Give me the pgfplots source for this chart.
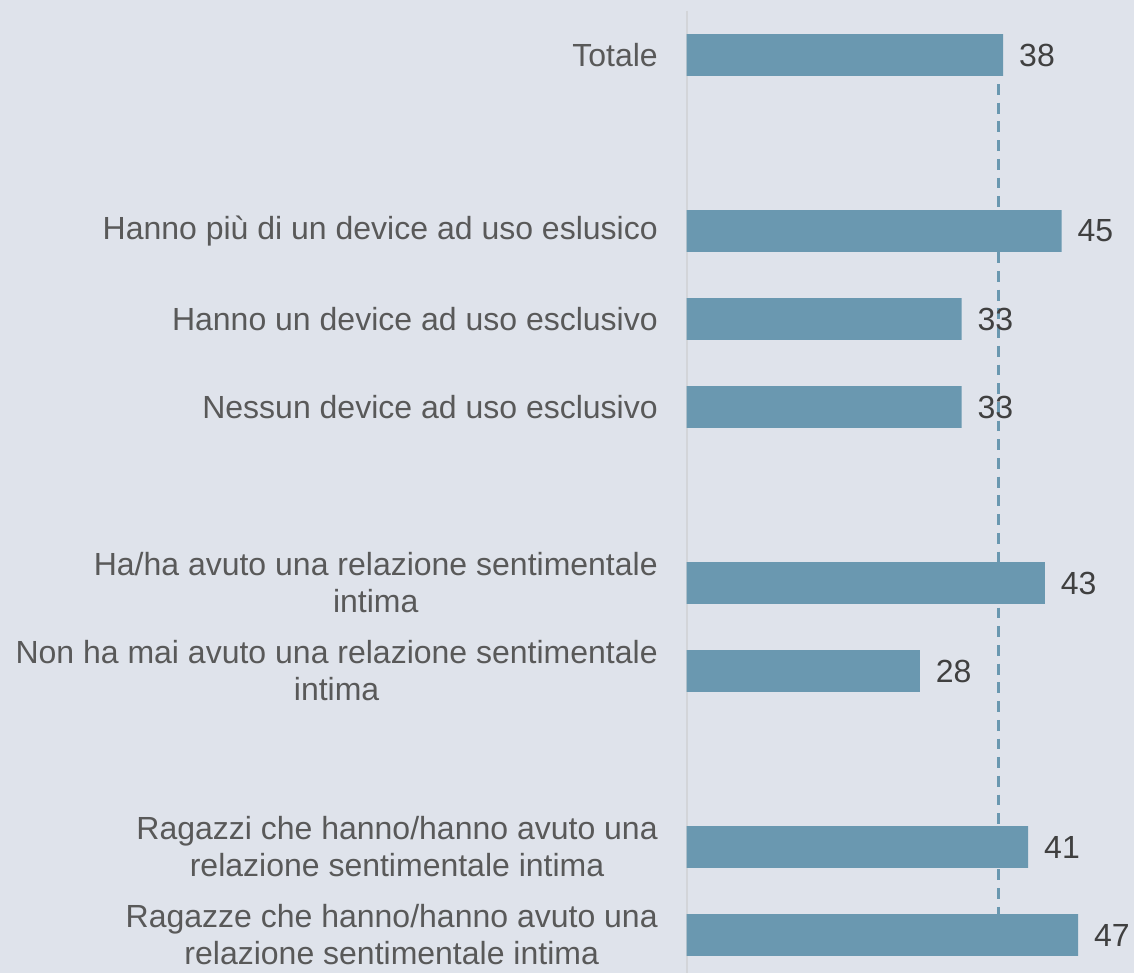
\documentclass[border=0pt]{standalone}
\usepackage{fontspec}
\setmainfont{Liberation Sans}
\usepackage{pgfplots}
\pgfplotsset{compat=1.18}
\definecolor{bg}{HTML}{DFE3EB}
\definecolor{barc}{HTML}{6A98B0}
\definecolor{lab}{HTML}{595959}
\definecolor{val}{HTML}{404040}
\definecolor{axl}{HTML}{D3D5D9}
\begin{document}
\begin{tikzpicture}
\path[use as bounding box, fill=bg] (0,0) rectangle (567pt,486.5pt);
\begin{axis}[
  at={(343.35pt,0pt)}, anchor=south west,
  scale only axis, width=223.65pt, height=481pt,
  xmin=0, xmax=53.70, ymin=-0.5, ymax=10.432,
  y dir=reverse,
  separate axis lines,
  axis x line=none, axis y line*=left,
  y axis line style={draw=axl, line width=0.9pt},
  major tick length=0pt,
  ytick={0,2,3,4,6,7,9,10},
  yticklabels={
    {Totale},
    {Hanno più di un device ad uso eslusico},
    {Hanno un device ad uso esclusivo},
    {Nessun device ad uso esclusivo},
    {Ha/ha avuto una relazione sentimentale\\intima},
    {Non ha mai avuto una relazione sentimentale\\intima},
    {Ragazzi che hanno/hanno avuto una\\relazione sentimentale intima},
    {Ragazze che hanno/hanno avuto una\\relazione sentimentale intima}},
  yticklabel style={align=center, text=lab, inner sep=0pt, xshift=-14.3pt,
    font=\fontsize{16pt}{18.5pt}\selectfont},
  /pgf/number format/assume math mode=true,
  clip=false,
]
\addplot[barc, line width=1.4pt, dash pattern=on 5.4pt off 3.95pt] coordinates {(37.45,0.33) (37.45,10)};
\addplot[xbar, bar width=0.477, fill=barc, draw=none,
  nodes near coords,
  nodes near coords style={anchor=west, inner sep=0pt, xshift=7.8pt, text=val,
    font=\fontsize{16pt}{18.5pt}\selectfont}]
  coordinates {(38,0) (45,2) (33,3) (33,4) (43,6) (28,7) (41,9) (47,10)};
\end{axis}
\end{tikzpicture}
\end{document}
